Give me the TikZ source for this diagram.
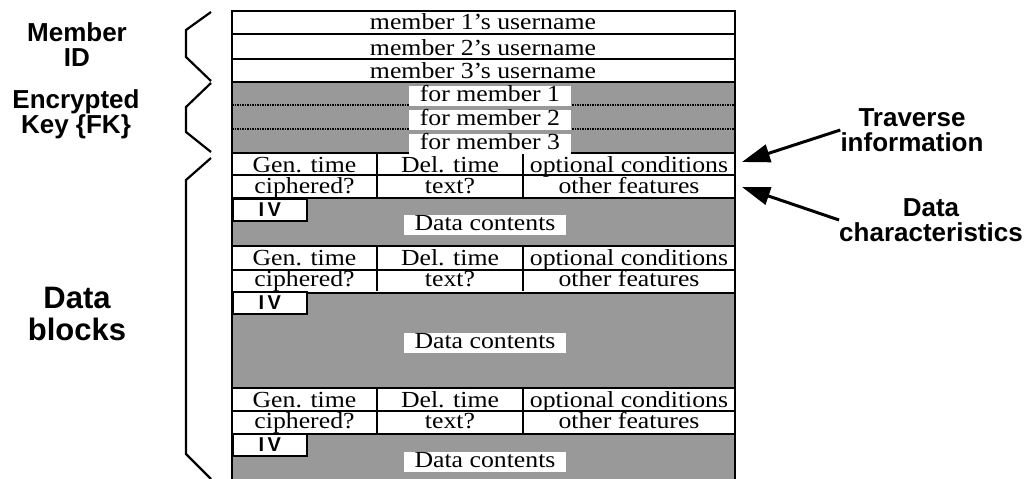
\documentclass[tikz,border=0pt]{standalone}
\usepackage{fontspec}
\setmainfont{Liberation Serif}[FakeStretch=1.12]
\setsansfont{Liberation Sans}
\usetikzlibrary{arrows.meta}

\tikzset{
  cell/.style={font=\fontsize{23}{25}\selectfont, inner sep=0pt,
               text height=14pt, text depth=4pt, anchor=base},
  whitebox/.style={cell, fill=white, inner xsep=11pt, inner ysep=1pt},
  side/.style={font=\sffamily\bfseries\fontsize{26}{25}\selectfont, align=center, inner sep=0pt},
  bigside/.style={font=\sffamily\bfseries\fontsize{31}{32}\selectfont, align=center, inner sep=0pt},
  shade/.style={fill=black!40},
  rowline/.style={line width=1.5pt},
  brace/.style={line width=2.2pt},
  pointer/.style={line width=3pt, -{Triangle[length=28pt,width=18pt]}},
}

\begin{document}
\begin{tikzpicture}[x=1pt,y=-1pt]
\useasboundingbox (0,0) rectangle (1029,479);

% gray parts
\fill[shade] (232,82) rectangle (735,153);
\foreach \t/\b in {198/246, 293/388, 434/479}
  \fill[shade] (232,\t) rectangle (735,\b);

% rows and columns
\foreach \y in {11,34,59,82,153,175,198,246,270,293,388,411,434}
  \draw[rowline] (232,\y) -- (735,\y);
\foreach \y in {105,129}
  \draw[rowline, densely dotted] (232,\y) -- (735,\y);
\foreach \t in {153,246,388}
  \draw[rowline] (377,\t) -- (377,\t+45) (523,\t) -- (523,\t+45);
\draw[line width=2pt] (232,479) -- (232,11) -- (735,11) -- (735,479);

% member id
\node[cell] (user1) at (483,30) {member 1's username};
\node[cell] (user2) at (483,55) {member 2's username};
\node[cell] (user3) at (483,78) {member 3's username};

% encrypted keys
\node[whitebox] (key1) at (490,101) {for member 1};
\node[whitebox] (key2) at (490,125) {for member 2};
\node[whitebox] (key3) at (490,149) {for member 3};

% data blocks
\foreach \t [count=\i] in {153,246,388}{
  \node[cell] (gen\i) at (304.5,\t+19) {Gen. time};
  \node[cell] (del\i) at (450,\t+19) {Del. time};
  \node[cell] (opt\i) at (629,\t+19) {optional conditions};
  \node[cell] (ciph\i) at (304.5,\t+40) {ciphered?};
  \node[cell] (txt\i) at (450,\t+40) {text?};
  \node[cell] (feat\i) at (629,\t+40) {other features};
  \node[draw, rowline, fill=white, anchor=north west, minimum width=74pt,
        minimum height=22pt, inner sep=0pt,
        font=\sffamily\bfseries\fontsize{20}{20}\selectfont] (iv\i) at (232,\t+45) {I\,V};
}
\node[whitebox] (cont1) at (485,230) {Data contents};
\node[whitebox] (cont2) at (485,348) {Data contents};
\node[whitebox] (cont3) at (485,467) {Data contents};

% braces
\draw[brace] (211,12) -- (186,30) -- (186,57) -- (211,81);
\draw[brace] (211,83) -- (186,107) -- (186,132) -- (211,152);
\draw[brace] (211,158) -- (186,180) -- (186,454) -- (211,479);

\node[side] (memid) at (77,45) {Member\\ID};
\node[side] (enckey) at (76,114) {Encrypted\\Key \{FK\}};
\node[bigside] (blocks) at (77,314) {Data\\blocks};

% pointers
\coordinate (travtip) at (742,162);
\coordinate (chartip) at (742,187);
\node[side] (trav) at (912,130) {Traverse\\information};
\node[side] (chars) at (931,220) {Data\\characteristics};
\draw[pointer] (trav.west) -- (travtip);
\draw[pointer] (chars.west) -- (chartip);
\end{tikzpicture}
\end{document}
